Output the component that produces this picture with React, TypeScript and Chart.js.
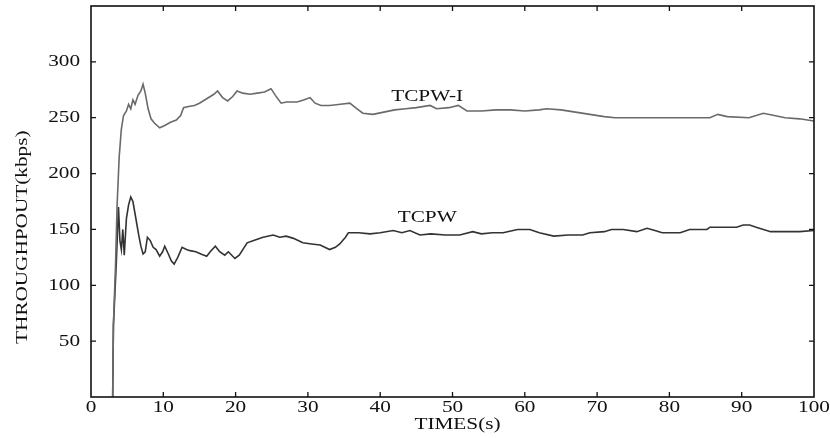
import React, { useEffect, useRef } from "react";
import { Chart, registerables } from "chart.js";

Chart.register(...registerables);

const xTicks = [0, 10, 20, 30, 40, 50, 60, 70, 80, 90, 100];
const yTicks = [50, 100, 150, 200, 250, 300];

const tcpwiTime = [
  3.0, 3.1, 3.4, 3.6, 3.9, 4.2, 4.5, 4.9, 5.2, 5.5, 5.8, 6.1, 6.5, 6.9, 7.2, 7.5, 7.9, 8.3, 8.8, 9.5,
  10.2, 11, 11.8, 12.4, 12.8, 13.5, 14.3, 15, 16, 17, 17.5, 18.2, 18.9, 19.6, 20.2, 21, 22, 23, 24, 24.9,
  25.5, 26.3, 27, 28.5, 29.5, 30.3, 31, 31.8, 33, 34.5, 35.8, 36.8, 37.6, 39, 40.5, 42, 43.5, 45, 46.9, 47.8,
  49.5, 50.8, 52, 54, 56, 58, 60, 62, 63, 65, 67, 69, 71, 72.5, 76, 80, 83, 85.6, 86.7, 88,
  91, 93, 94.5, 96, 98, 100,
];
const tcpwiValue = [
  0, 64, 120, 170, 215, 240, 252, 256, 262, 258, 266, 262, 270, 274, 280, 272, 258, 249, 245, 241,
  243, 246, 248, 252, 259, 260, 261, 263, 267, 271, 274, 268, 265, 269, 274, 272, 271, 272, 273, 276,
  270, 263, 264, 264, 266, 268, 263, 261, 261, 262, 263, 258, 254, 253, 255, 257, 258, 259, 261, 258,
  259, 261, 256, 256, 257, 257, 256, 257, 258, 257, 255, 253, 251, 250, 250, 250, 250, 250, 253, 251,
  250, 254, 252, 250, 249, 247,
];

const tcpwTime = [
  3.0, 3.1, 3.5, 3.8, 4.0, 4.2, 4.4, 4.6, 4.9, 5.2, 5.5, 5.8, 6.2, 6.6, 6.9, 7.2, 7.5, 7.8, 8.2, 8.6,
  9.0, 9.5, 9.9, 10.2, 10.7, 11.1, 11.5, 12.0, 12.6, 13.2, 13.7, 14.5, 15.2, 16, 16.6, 17.2, 17.8, 18.5, 19, 19.9,
  20.5, 21.6, 22.5, 23.8, 25.2, 26.1, 27, 28, 29.3, 30.5, 31.7, 33, 33.8, 34.4, 35.2, 35.6, 37, 38.6, 40, 41.8,
  43, 44.1, 45.5, 47, 49, 51, 52.8, 54, 55.5, 57, 59, 60.7, 62, 64, 66, 68, 69, 71, 72, 73.6,
  75.5, 76.9, 78, 79, 81.5, 82.8, 85.2, 85.6, 87, 89.3, 90.2, 91.1, 92, 94, 96, 98, 100,
];
const tcpwValue = [
  0, 64, 120, 170, 140, 132, 150, 127, 160, 172, 179, 175, 160, 145, 135, 128, 130, 143, 140, 134,
  132, 126, 130, 135, 128, 122, 119, 125, 134, 132, 131, 130, 128, 126, 131, 135, 130, 127, 130, 124,
  127, 138, 140, 143, 145, 143, 144, 142, 138, 137, 136, 132, 134, 137, 143, 147, 147, 146, 147, 149,
  147, 149, 145, 146, 145, 145, 148, 146, 147, 147, 150, 150, 147, 144, 145, 145, 147, 148, 150, 150,
  148, 151, 149, 147, 147, 150, 150, 152, 152, 152, 154, 154, 152, 148, 148, 148, 149,
];

const seriesLabels = ["TCPW-I", "TCPW"];
const labelAnchorX = [46.5, 46.5];
const labelAnchorY = [269, 161];

const xTitle = "TIMES(s)";
const yTitle = "THROUGHPOUT(kbps)";

const FONT = '17px "Liberation Serif", "Times New Roman", serif';
const SX = 1.25;

function drawText(
  ctx: CanvasRenderingContext2D,
  text: string,
  x: number,
  y: number,
  align: CanvasTextAlign,
  rot = 0
) {
  ctx.save();
  ctx.translate(x, y);
  ctx.rotate(rot);
  ctx.scale(SX, 1);
  ctx.font = FONT;
  ctx.fillStyle = "#111";
  ctx.textAlign = align;
  ctx.textBaseline = "middle";
  ctx.fillText(text, 0, 0);
  ctx.restore();
}

const framePlugin = {
  id: "frame",
  afterDraw(chart: any) {
    const ctx: CanvasRenderingContext2D = chart.ctx;
    const { left, right, top, bottom } = chart.chartArea;
    const xs = chart.scales.x;
    const ys = chart.scales.y;
    ctx.save();
    ctx.strokeStyle = "#111";
    ctx.lineWidth = 1.6;
    ctx.strokeRect(left, top, right - left, bottom - top);
    ctx.lineWidth = 1.3;
    ctx.beginPath();
    xTicks.forEach((t) => {
      if (t === 0 || t === 100) return;
      const px = xs.getPixelForValue(t);
      ctx.moveTo(px, bottom);
      ctx.lineTo(px, bottom - 5);
      ctx.moveTo(px, top);
      ctx.lineTo(px, top + 5);
    });
    yTicks.forEach((v) => {
      const py = ys.getPixelForValue(v);
      ctx.moveTo(left, py);
      ctx.lineTo(left + 5, py);
      ctx.moveTo(right, py);
      ctx.lineTo(right - 5, py);
    });
    ctx.stroke();
    ctx.restore();

    xTicks.forEach((t) => {
      drawText(ctx, String(t), xs.getPixelForValue(t), bottom + 11, "center");
    });
    yTicks.forEach((v) => {
      drawText(ctx, String(v), left - 11, ys.getPixelForValue(v), "right");
    });
    drawText(ctx, xTitle, (left + right) / 2 + 5, bottom + 28, "center");
    drawText(ctx, yTitle, 23, ys.getPixelForValue(143), "center", -Math.PI / 2);
    seriesLabels.forEach((s, i) => {
      drawText(ctx, s, xs.getPixelForValue(labelAnchorX[i]), ys.getPixelForValue(labelAnchorY[i]), "center");
    });
  },
};

export default function App() {
  const ref = useRef<HTMLCanvasElement | null>(null);
  useEffect(() => {
    if (!ref.current) return;
    const chart = new Chart(ref.current, {
      type: "line",
      data: {
        datasets: [
          {
            label: seriesLabels[0],
            data: tcpwiTime.map((t, i) => ({ x: t, y: tcpwiValue[i] })),
            borderColor: "#6a6a6a",
            borderWidth: 1.6,
            pointRadius: 0,
            tension: 0,
            fill: false,
          },
          {
            label: seriesLabels[1],
            data: tcpwTime.map((t, i) => ({ x: t, y: tcpwValue[i] })),
            borderColor: "#333333",
            borderWidth: 1.6,
            pointRadius: 0,
            tension: 0,
            fill: false,
          },
        ],
      },
      options: {
        animation: false,
        responsive: false,
        layout: { padding: { left: 0, right: 16, top: 6, bottom: 0 } },
        plugins: { legend: { display: false }, tooltip: { enabled: false } },
        scales: {
          x: {
            type: "linear",
            min: 0,
            max: 100,
            ticks: { display: false, stepSize: 10 },
            grid: { display: false },
            border: { display: false },
            afterFit: (s: any) => {
              s.height = 41;
            },
          },
          y: {
            type: "linear",
            min: 0,
            max: 350,
            ticks: { display: false, stepSize: 50 },
            grid: { display: false },
            border: { display: false },
            afterFit: (s: any) => {
              s.width = 91;
            },
          },
        },
      },
      plugins: [framePlugin],
    });
    return () => chart.destroy();
  }, []);
  return (
    <div style={{ position: "fixed", left: 0, top: 0, width: 830, height: 438, background: "#fff" }}>
      <canvas ref={ref} width={830} height={438} />
    </div>
  );
}
